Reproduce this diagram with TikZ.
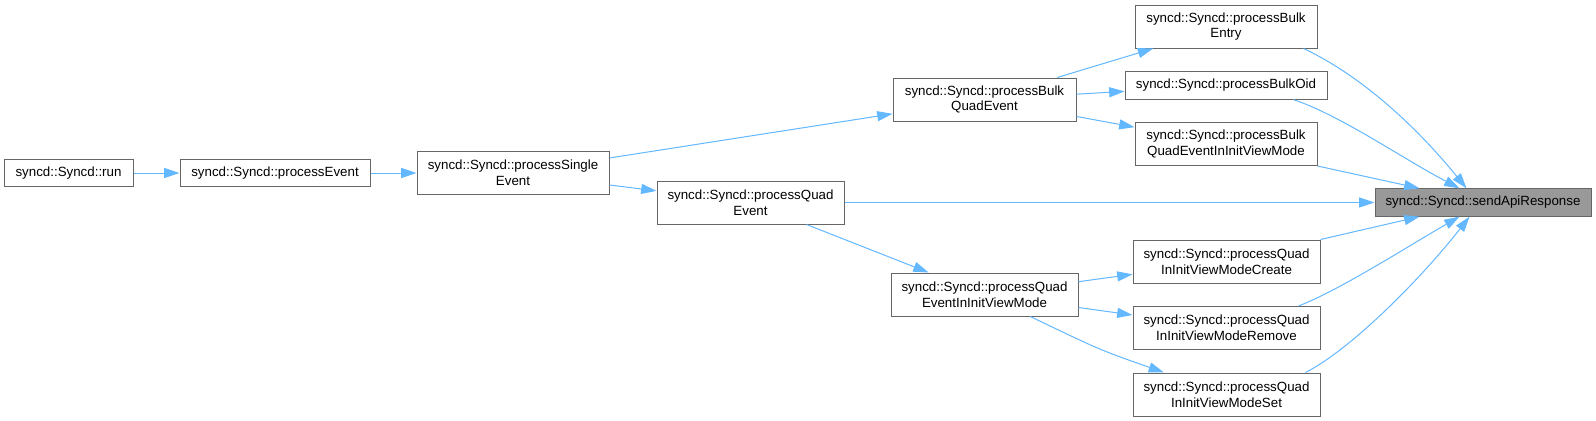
\documentclass[tikz,border=0pt]{standalone}
\usepackage{fontspec}
\setmainfont{Liberation Sans}
\usetikzlibrary{arrows.meta,calc}

\definecolor{edgeblue}{HTML}{63B8FF}
\definecolor{boxgray}{HTML}{666666}
\definecolor{apigray}{HTML}{999999}

\begin{document}
\begin{tikzpicture}[
  x=0.75pt, y=-0.75pt,
  fn/.style={draw=boxgray, fill=white, line width=0.75pt, inner sep=0pt, align=center,
    font=\fontsize{10}{11.8}\selectfont, minimum height=32.25pt},
  fnone/.style={fn, minimum height=20.5pt},
  calls/.style={draw=edgeblue, line width=0.75pt, -{Triangle[length=11.5pt,width=7.5pt]}}]

  \fill[white] (0,0) rectangle (1596,421);
  \useasboundingbox (0,0) rectangle (1596,421);

  % ---- nodes --------------------------------------------------------------
  % callers, left to right
  \node[fnone, minimum width=96.75pt]  (run)          at (68.5,173)    {syncd::Syncd::run};
  \node[fnone, minimum width=142.5pt]  (procEvent)    at (275,173)     {syncd::Syncd::processEvent};
  \node[fn,    minimum width=144pt]    (procSingle)   at (513,173)     {syncd::Syncd::processSingle\\Event};
  \node[fn,    minimum width=140.25pt] (procQuad)     at (750.5,202.5) {syncd::Syncd::processQuad\\Event};
  \node[fn,    minimum width=137.25pt] (procBulkQuad) at (984.5,99.5)  {syncd::Syncd::processBulk\\QuadEvent};
  \node[fn,    minimum width=140.25pt] (procQuadInit) at (984.5,294.5) {syncd::Syncd::processQuad\\EventInInitViewMode};
  % last column before the callee
  \node[fn,    minimum width=136.5pt]  (bulkEntry)    at (1226,26.5)   {syncd::Syncd::processBulk\\Entry};
  \node[fnone, minimum width=151.5pt]  (bulkOid)      at (1226,85.5)   {syncd::Syncd::processBulkOid};
  \node[fn,    minimum width=136.5pt]  (bulkQuadInit) at (1226,144)    {syncd::Syncd::processBulk\\QuadEventInInitViewMode};
  \node[fn,    minimum width=140.25pt] (quadCreate)   at (1226.5,261.5){syncd::Syncd::processQuad\\InInitViewModeCreate};
  \node[fn,    minimum width=140.25pt] (quadRemove)   at (1226.5,328)  {syncd::Syncd::processQuad\\InInitViewModeRemove};
  \node[fn,    minimum width=140.25pt] (quadSet)      at (1226.5,394.5){syncd::Syncd::processQuad\\InInitViewModeSet};
  % the callee
  \node[fnone, minimum width=162pt, fill=apigray] (sendApi) at (1483,202.5) {syncd::Syncd::sendApiResponse};

  % ---- edges --------------------------------------------------------------
  \draw[calls] (run) -- (procEvent);
  \draw[calls] (procEvent) -- (procSingle);
  \draw[calls] (procSingle) -- (procBulkQuad);
  \draw[calls] (procSingle) -- (procQuad);
  \draw[calls] (procBulkQuad) -- (bulkEntry);
  \draw[calls] (procBulkQuad) -- (bulkOid);
  \draw[calls] (procBulkQuad) -- (bulkQuadInit);
  \draw[calls] (procQuad) -- (sendApi);
  \draw[calls] (procQuad) -- (procQuadInit);
  \draw[calls] (procQuadInit) -- (quadCreate);
  \draw[calls] (procQuadInit) -- (quadRemove);
  \draw[calls] (procQuadInit) .. controls (1100,350) .. (quadSet);

  % into sendApiResponse
  \draw[calls] ($(bulkEntry.south east)+(-14,0)$) .. controls (1360,75) and (1415,125) .. ($(sendApi.north west)+(92,0)$);
  \draw[calls] ($(bulkOid.south east)+(-34,0)$) .. controls (1340,115) and (1405,160) .. ($(sendApi.north west)+(85,0)$);
  \draw[calls] (bulkQuadInit.south east) -- ($(sendApi.north west)+(45,0)$);
  \draw[calls] (quadCreate.north east) -- ($(sendApi.south west)+(45,0)$);
  \draw[calls] ($(quadRemove.north east)+(-22,0)$) .. controls (1340,290) and (1410,245) .. ($(sendApi.south west)+(85,0)$);
  \draw[calls] ($(quadSet.north east)+(-15,0)$) .. controls (1350,350) and (1420,280) .. ($(sendApi.south west)+(95,0)$);
\end{tikzpicture}
\end{document}
